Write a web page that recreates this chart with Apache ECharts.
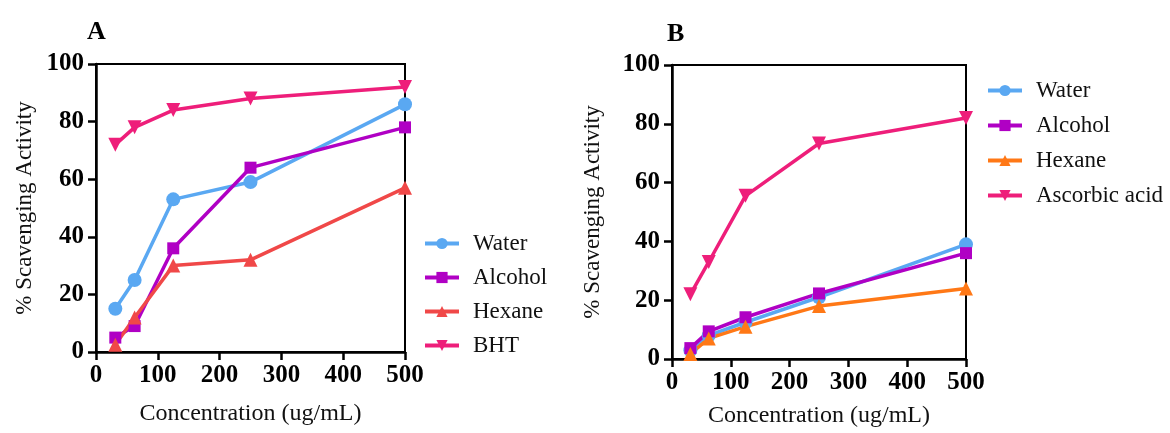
<!DOCTYPE html>
<html>
<head>
<meta charset="utf-8">
<script src="https://cdn.jsdelivr.net/npm/echarts@6/dist/echarts.min.js"></script>
<style>
  html, body { margin: 0; padding: 0; background: #fff; }
  #chart { width: 1170px; height: 433px; }
</style>
</head>
<body>
<div id="chart"></div>
<script>
// concentrations (ug/mL), shared by both panels
const conc = [31.25, 62.5, 125, 250, 500];

// panel A
const aWater   = [15, 25, 53, 59, 86];
const aAlcohol = [5, 9, 36, 64, 78];
const aHexane  = [2.5, 12, 30, 32, 57];
const aBHT     = [72, 78, 84, 88, 92];

// panel B
const bWater    = [3, 8, 12.5, 21, 39];
const bAlcohol  = [3.7, 9.4, 14.2, 22.3, 36];
const bHexane   = [1.7, 7, 11, 18, 24];
const bAscorbic = [22, 33, 55.5, 73.3, 82];

const xTicks = { min: 0, max: 500, interval: 100 };
const yTicks = { min: 0, max: 100, interval: 20 };

const FONT = "'Liberation Serif', 'Times New Roman', serif";
const C = {
  water:   '#5aa8f2',
  alcohol: '#b000c4',
  hexaneA: '#f04848',
  hexaneB: '#ff7816',
  pink:    '#ee1e7a',
};
const DOWN_TRI = 'path://M0,0 L10,0 L5,9 Z';

function pts(ys) {
  return conc.map((x, i) => [x, ys[i]]);
}

function line(name, ys, color, symbol, idx, size) {
  return {
    name,
    type: 'line',
    xAxisIndex: idx,
    yAxisIndex: idx,
    data: pts(ys),
    symbol,
    symbolSize: size || 14,
    showSymbol: true,
    clip: false,
    lineStyle: { color, width: 3.5 },
    itemStyle: { color },
    emphasis: { disabled: true },
  };
}

function xAxis(idx, gap) {
  return {
    type: 'value', gridIndex: idx, ...xTicks,
    name: 'Concentration (ug/mL)', nameLocation: 'middle', nameGap: gap,
    nameTextStyle: { fontFamily: FONT, fontSize: 24, color: '#111' },
    axisLine: { show: true, onZero: false, lineStyle: { color: '#000', width: 2.5 } },
    axisTick: { show: true, length: 8, lineStyle: { color: '#000', width: 2.5 } },
    axisLabel: { fontFamily: FONT, fontSize: 25, fontWeight: 'bold', color: '#000', margin: 11 },
    splitLine: { show: false },
  };
}

function yAxis(idx, gap) {
  return {
    type: 'value', gridIndex: idx, ...yTicks,
    name: '% Scavenging Activity', nameLocation: 'middle', nameGap: gap,
    nameTextStyle: { fontFamily: FONT, fontSize: 23, color: '#111' },
    axisLine: { show: true, lineStyle: { color: '#000', width: 2.5 } },
    axisTick: { show: true, length: 8, lineStyle: { color: '#000', width: 2.5 } },
    axisLabel: { fontFamily: FONT, fontSize: 25, fontWeight: 'bold', color: '#000', margin: 12 },
    splitLine: { show: false },
  };
}

function legend(names, left, top, gap) {
  return {
    data: names,
    orient: 'vertical',
    left, top,
    itemWidth: 34,
    itemHeight: 14,
    itemGap: gap,
    selectedMode: false,
    lineStyle: { width: 4 },
    textStyle: { fontFamily: FONT, fontSize: 23, color: '#111', lineHeight: 22, padding: [0, 0, 0, 9] },
  };
}

const option = {
  animation: false,
  backgroundColor: '#fff',
  grid: [
    { left: 96, top: 64, width: 309, height: 288, show: true, borderColor: '#000', borderWidth: 2 },
    { left: 672, top: 65, width: 294, height: 296, show: true, borderColor: '#000', borderWidth: 2 },
  ],
  xAxis: [xAxis(0, 50), xAxis(1, 45)],
  yAxis: [yAxis(0, 60), yAxis(1, 68)],
  legend: [
    legend(['Water', 'Alcohol', 'Hexane', 'BHT'], 418, 227, 11),
    legend(['Water ', 'Alcohol ', 'Hexane ', 'Ascorbic acid'], 981, 74, 12),
  ],
  graphic: [
    { type: 'text', left: 87, top: 19, style: { text: 'A', font: "bold 26px " + FONT, fill: '#000' } },
    { type: 'text', left: 667, top: 21, style: { text: 'B', font: "bold 26px " + FONT, fill: '#000' } },
  ],
  series: [
    line('Water', aWater, C.water, 'circle', 0),
    line('Alcohol', aAlcohol, C.alcohol, 'rect', 0, 12),
    line('Hexane', aHexane, C.hexaneA, 'triangle', 0),
    line('BHT', aBHT, C.pink, DOWN_TRI, 0),
    line('Water ', bWater, C.water, 'circle', 1),
    line('Alcohol ', bAlcohol, C.alcohol, 'rect', 1, 12),
    line('Hexane ', bHexane, C.hexaneB, 'triangle', 1),
    line('Ascorbic acid', bAscorbic, C.pink, DOWN_TRI, 1),
  ],
};

const chart = echarts.init(document.getElementById('chart'), null, { renderer: 'canvas' });
chart.setOption(option);
</script>
</body>
</html>
